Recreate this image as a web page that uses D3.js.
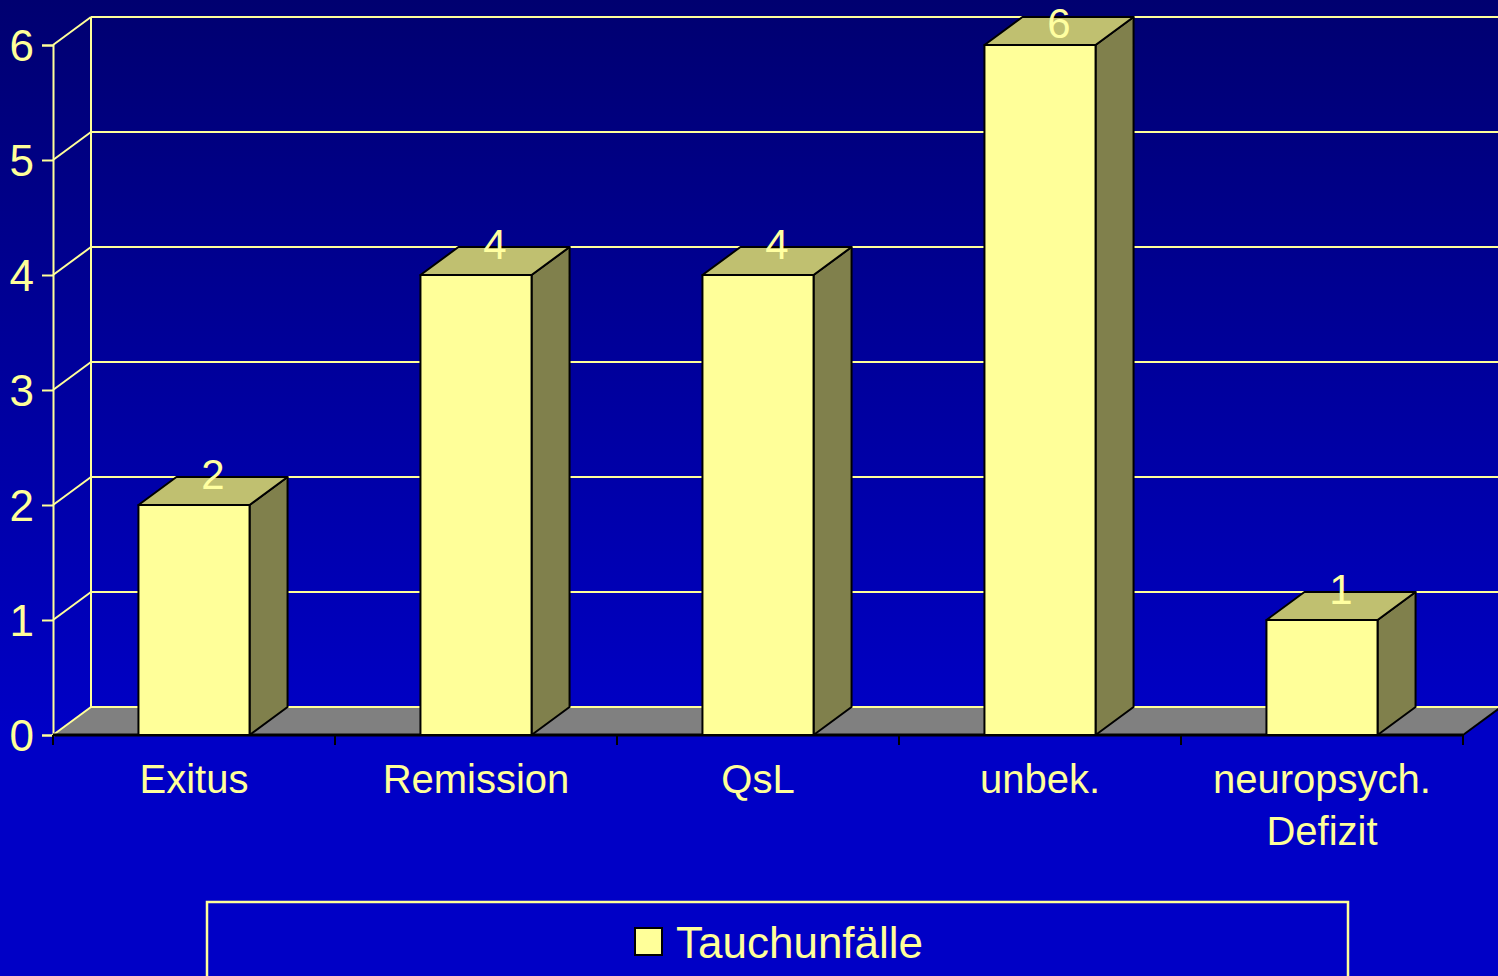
<!DOCTYPE html>
<html>
<head>
<meta charset="utf-8">
<script src="https://cdn.jsdelivr.net/npm/d3@7"></script>
<style>
  html, body { margin: 0; padding: 0; background: #0000c8; }
  svg { display: block; }
</style>
</head>
<body>
<svg id="chart" width="1498" height="976"></svg>
<script>
const categories = ["Exitus", "Remission", "QsL", "unbek.", "neuropsych.\nDefizit"];
const values = [2, 4, 4, 6, 1];
const yTicks = [0, 1, 2, 3, 4, 5, 6];
const seriesName = "Tauchunfälle";

const W = 1498, H = 976;
const plotLeft = 53, plotRight = 1463, plotBottom = 735, plotTop = 45;
const DX = 38, DY = -28;
const font = "Liberation Sans, Arial, sans-serif";
const yellow = "#ffff99";

const svg = d3.select("#chart");
const defs = svg.append("defs");
const grad = defs.append("linearGradient").attr("id", "bg")
  .attr("gradientUnits", "userSpaceOnUse").attr("x1", 0).attr("y1", 0).attr("x2", 0).attr("y2", 730);
grad.append("stop").attr("offset", 0).attr("stop-color", "#000070");
grad.append("stop").attr("offset", 1).attr("stop-color", "#0000c6");
svg.append("rect").attr("width", W).attr("height", H).attr("fill", "url(#bg)");

const x = d3.scaleBand().domain(categories).range([plotLeft, plotRight]).paddingInner(0.606).paddingOuter(0.303);
const y = d3.scaleLinear().domain([0, 6]).range([plotBottom, plotTop]);

// back wall gridlines
const g = svg.append("g");
g.selectAll("line.grid").data(yTicks.filter(d => d > 0)).join("line")
  .attr("x1", plotLeft + DX).attr("x2", W + 5)
  .attr("y1", d => y(d) + DY).attr("y2", d => y(d) + DY)
  .attr("stroke", yellow).attr("stroke-width", 2);
g.selectAll("line.diag").data(yTicks.filter(d => d > 0)).join("line")
  .attr("x1", plotLeft).attr("x2", plotLeft + DX)
  .attr("y1", d => y(d)).attr("y2", d => y(d) + DY)
  .attr("stroke", yellow).attr("stroke-width", 2);
g.append("line").attr("x1", plotLeft + DX).attr("x2", plotLeft + DX)
  .attr("y1", y(6) + DY).attr("y2", y(0) + DY)
  .attr("stroke", yellow).attr("stroke-width", 2);

// floor
const floorPts = [[plotLeft, y(0)], [plotRight, y(0)], [plotRight + DX, y(0) + DY], [plotLeft + DX, y(0) + DY]];
g.append("polygon").attr("points", floorPts.map(p => p.join(",")).join(" "))
  .attr("fill", "#808080");
g.append("line").attr("x1", plotLeft + DX).attr("x2", W + 5)
  .attr("y1", y(0) + DY).attr("y2", y(0) + DY)
  .attr("stroke", yellow).attr("stroke-width", 2);
g.append("line").attr("x1", plotLeft).attr("x2", plotLeft + DX)
  .attr("y1", y(0)).attr("y2", y(0) + DY)
  .attr("stroke", yellow).attr("stroke-width", 2);
g.append("line").attr("x1", plotRight).attr("x2", plotRight + DX)
  .attr("y1", y(0)).attr("y2", y(0) + DY)
  .attr("stroke", "#000").attr("stroke-width", 2);

// y axis
const yAxis = d3.axisLeft(y).tickValues(yTicks).tickSize(11).tickPadding(8).tickFormat(d3.format("d"));
const ya = svg.append("g").attr("transform", `translate(${plotLeft},0)`).call(yAxis);
ya.select(".domain").attr("stroke", yellow).attr("stroke-width", 2);
ya.selectAll(".tick line").attr("stroke", yellow).attr("stroke-width", 2);
ya.selectAll(".tick text").attr("fill", yellow).attr("font-size", 44).attr("font-family", font).attr("dy", "0.36em");

// x axis line + ticks
const boundaries = d3.range(categories.length + 1).map(i => plotLeft + i * x.step());
svg.append("line").attr("x1", plotLeft).attr("x2", plotRight).attr("y1", plotBottom).attr("y2", plotBottom)
  .attr("stroke", "#000").attr("stroke-width", 3);
svg.selectAll("line.xt").data(boundaries).join("line")
  .attr("x1", d => d).attr("x2", d => d).attr("y1", plotBottom).attr("y2", plotBottom + 10)
  .attr("stroke", "#000").attr("stroke-width", 2);

// bars
const bars = svg.append("g");
categories.forEach((c, i) => {
  const x0 = x(c), x1 = x(c) + x.bandwidth(), yt = y(values[i]), yb = y(0);
  const bg = bars.append("g").attr("stroke", "#000").attr("stroke-width", 2).attr("stroke-linejoin", "round");
  bg.append("polygon").attr("points", [[x1, yb], [x1 + DX, yb + DY], [x1 + DX, yt + DY], [x1, yt]].map(p => p.join(",")).join(" "))
    .attr("fill", "#80804c");
  bg.append("polygon").attr("points", [[x0, yt], [x1, yt], [x1 + DX, yt + DY], [x0 + DX, yt + DY]].map(p => p.join(",")).join(" "))
    .attr("fill", "#c0c070");
  bg.append("rect").attr("x", x0).attr("y", yt).attr("width", x1 - x0).attr("height", yb - yt)
    .attr("fill", "#ffff99");
  bars.append("text")
    .attr("x", x0 + x.bandwidth() / 2 + DX / 2)
    .attr("y", Math.max(yt - 16, 38))
    .attr("text-anchor", "middle").attr("fill", "#ffffa0").attr("font-size", 42).attr("font-family", font)
    .text(values[i]);
});

// category labels
categories.forEach(c => {
  const t = svg.append("text").attr("x", x(c) + x.bandwidth() / 2).attr("y", 793)
    .attr("text-anchor", "middle").attr("fill", yellow).attr("font-size", 40).attr("font-family", font);
  c.split("\n").forEach((line, j) => {
    t.append("tspan").attr("x", x(c) + x.bandwidth() / 2).attr("dy", j === 0 ? 0 : 52).text(line);
  });
});

// legend
svg.append("rect").attr("x", 207).attr("y", 902).attr("width", 1141).attr("height", 100)
  .attr("fill", "none").attr("stroke", yellow).attr("stroke-width", 2.5);
svg.append("rect").attr("x", 635).attr("y", 928).attr("width", 27).attr("height", 27)
  .attr("fill", "#ffff99").attr("stroke", "#000").attr("stroke-width", 2);
svg.append("text").attr("x", 676).attr("y", 958).attr("fill", yellow)
  .attr("font-size", 44).attr("font-family", font).text(seriesName);
</script>
</body>
</html>
